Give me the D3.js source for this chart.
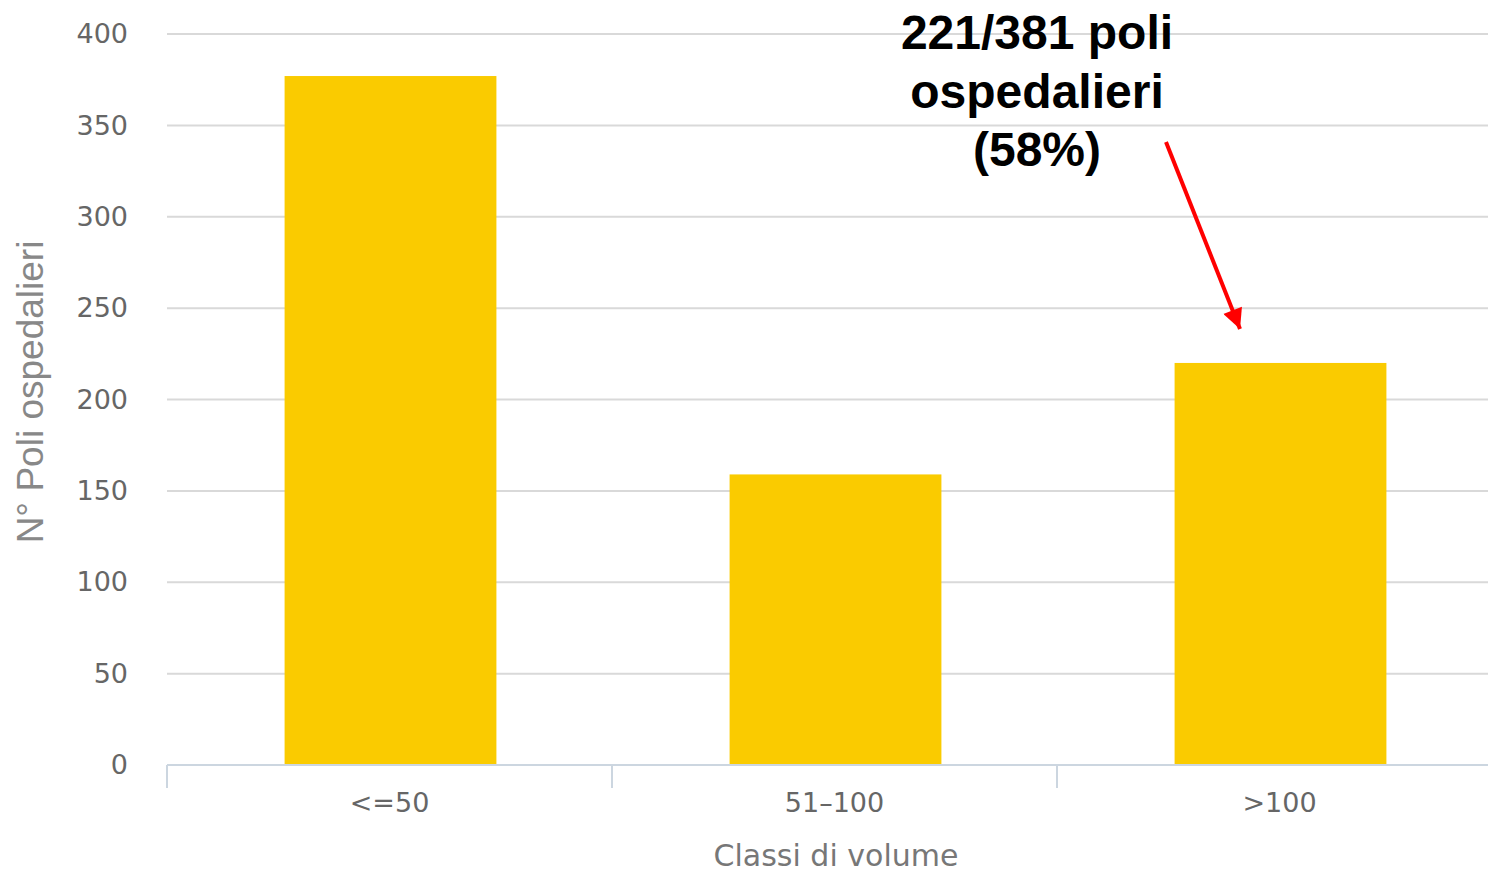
<!DOCTYPE html>
<html>
<head>
<meta charset="utf-8">
<script src="https://cdn.jsdelivr.net/npm/d3@7"></script>
<style>
  body { margin: 0; background: #fff; }
  svg { display: block; }
</style>
</head>
<body>
<div id="chart"></div>
<script>
// data
let categories = ["<=50", "51-100", ">100"];
let counts = [377, 159, 220];
let yTicks = [0, 50, 100, 150, 200, 250, 300, 350, 400];
let noteLines = ["221/381 poli", "ospedalieri", "(58%)"];

let width = 1488;
let height = 875;
let margin = ({top: 34, right: 0, bottom: 110, left: 167});
let plotBottom = 765;

let svg = d3.select("#chart")
  .append("svg")
  .attr("width", width).attr("height", height);

// scales
let xScale = d3.scaleBand()
  .domain(categories)
  .range([margin.left, margin.left + 445 * 3]);

let yScale = d3.scaleLinear()
  .domain([0, 400])
  .range([plotBottom, margin.top]);

let barW = xScale.bandwidth() * 0.476;

// gridlines
svg.append("g")
  .selectAll("line")
  .data(yTicks.filter(t => t > 0))
  .enter()
  .append("line")
  .attr("x1", margin.left)
  .attr("x2", width)
  .attr("y1", d => yScale(d))
  .attr("y2", d => yScale(d))
  .attr("stroke", "#d9d9d9")
  .attr("stroke-width", 2);

// bars
svg.append("g")
  .selectAll("rect")
  .data(counts)
  .enter()
  .append("rect")
  .attr("x", (d, i) => xScale(categories[i]) + xScale.bandwidth() / 2 - barW / 2 + 1)
  .attr("y", d => yScale(d))
  .attr("width", barW)
  .attr("height", d => plotBottom - yScale(d))
  .attr("fill", "#facb00");

// x axis
let xAxis = d3.axisBottom(xScale).tickSize(0).tickSizeOuter(0);
let gx = svg.append("g")
  .attr("transform", `translate(0,${plotBottom})`)
  .call(xAxis);
gx.select(".domain").remove();
gx.append("line")
  .attr("x1", margin.left).attr("x2", width)
  .attr("y1", 0).attr("y2", 0)
  .attr("stroke", "#ccd6e0").attr("stroke-width", 2);
// category boundary ticks
gx.append("g")
  .selectAll("line")
  .data(categories)
  .enter()
  .append("line")
  .attr("x1", d => xScale(d)).attr("x2", d => xScale(d))
  .attr("y1", 0).attr("y2", 23)
  .attr("stroke", "#ccd6e0").attr("stroke-width", 2);
gx.selectAll(".tick text")
  .attr("y", 38)
  .attr("dy", "0.35em")
  .attr("fill", "#666")
  .style("font-family", "'DejaVu Sans', Verdana, sans-serif")
  .style("font-size", "27px")
  .text(d => d.replace("-", "\u2013"));

// y axis
let yAxis = d3.axisLeft(yScale).tickValues(yTicks).tickSize(0);
let gy = svg.append("g")
  .attr("transform", `translate(${margin.left},0)`)
  .call(yAxis);
gy.select(".domain").remove();
gy.selectAll(".tick text")
  .attr("x", -39)
  .attr("fill", "#666")
  .style("font-family", "'DejaVu Sans', Verdana, sans-serif")
  .style("font-size", "27px");

// axis titles
svg.append("text")
  .attr("transform", "rotate(-90)")
  .attr("x", -392)
  .attr("y", 43)
  .style("text-anchor", "middle")
  .style("font-family", "'Liberation Sans', Arial, sans-serif")
  .style("font-size", "37px")
  .attr("fill", "#888")
  .text("N° Poli ospedalieri");

svg.append("text")
  .attr("x", 836)
  .attr("y", 866)
  .style("text-anchor", "middle")
  .style("font-family", "'DejaVu Sans', Verdana, sans-serif")
  .style("font-size", "30px")
  .attr("fill", "#777")
  .text("Classi di volume");

// annotation
svg.append("g")
  .selectAll("text")
  .data(noteLines)
  .enter()
  .append("text")
  .attr("x", 1037)
  .attr("y", (d, i) => 49 + i * 58.5)
  .style("text-anchor", "middle")
  .style("font-family", "'Liberation Sans', Arial, sans-serif")
  .style("font-weight", "bold")
  .style("font-size", "48px")
  .attr("fill", "#000")
  .text(d => d);

// red arrow pointing at the >100 bar
svg.append("defs").append("marker")
  .attr("id", "head")
  .attr("viewBox", "0 0 10 10")
  .attr("refX", 10).attr("refY", 5)
  .attr("markerWidth", 5.5).attr("markerHeight", 5)
  .attr("markerUnits", "strokeWidth")
  .attr("orient", "auto")
  .append("path")
  .attr("d", "M0,0 L10,5 L0,10 Z")
  .attr("fill", "#ff0000");

svg.append("line")
  .attr("x1", 1166).attr("y1", 142)
  .attr("x2", 1240).attr("y2", 329)
  .attr("stroke", "#ff0000")
  .attr("stroke-width", 4)
  .attr("marker-end", "url(#head)");
</script>
</body>
</html>
